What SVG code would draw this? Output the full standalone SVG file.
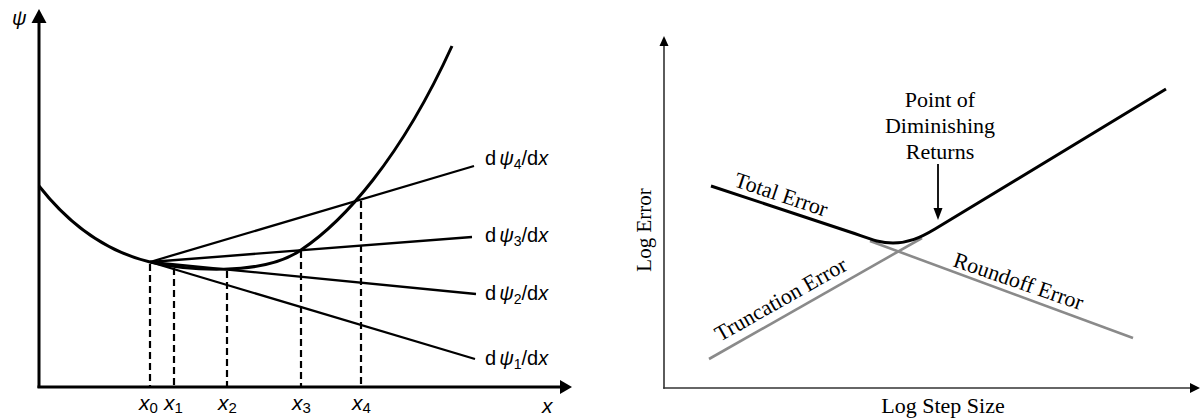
<svg xmlns="http://www.w3.org/2000/svg" width="1201" height="419" viewBox="0 0 1201 419">
<style>
.sans{font-family:"Liberation Sans",Arial,sans-serif;fill:#000}
.serif{font-family:"Liberation Serif","Times New Roman",serif;fill:#000}
.it{font-style:italic}
.thick{fill:none;stroke:#000;stroke-width:3}
.tan{fill:none;stroke:#000;stroke-width:2.3}
.dash{fill:none;stroke:#000;stroke-width:2.2;stroke-dasharray:7,4}
.gray{fill:none;stroke:#8a8a8a;stroke-width:2.6}
.ax2{fill:none;stroke:#333;stroke-width:1.6}
</style>
<rect width="1201" height="419" fill="#fff"/>
<!-- Left panel -->
<g id="left-axes">
<line class="thick" x1="39" y1="20" x2="39" y2="388"/>
<polygon points="39,9 31.5,23 46.5,23" fill="#000"/>
<line class="thick" x1="37.5" y1="387" x2="562" y2="387"/>
<polygon points="572,387 560,380 560,394" fill="#000"/>
<text class="sans it" x="12" y="25" font-size="20">ψ</text>
<text class="sans it" x="542" y="413" font-size="21">x</text>
</g>
<g id="connectors">
<path class="thick" d="M39,186 C72,228 108,252 150,262 C185,270 262,277 301,250 C343,222 400,160 452,46"/>
<line class="tan" x1="150" y1="262" x2="474" y2="166"/>
<line class="tan" x1="150" y1="262" x2="472" y2="237"/>
<line class="tan" x1="150" y1="262" x2="476" y2="294"/>
<line class="tan" x1="150" y1="262" x2="475" y2="359"/>
<line class="dash" x1="150" y1="264" x2="150" y2="386"/>
<line class="dash" x1="174" y1="268" x2="174" y2="386"/>
<line class="dash" x1="227" y1="271" x2="227" y2="386"/>
<line class="dash" x1="301" y1="251" x2="301" y2="386"/>
<line class="dash" x1="361" y1="201" x2="361" y2="386"/>
</g>
<g id="tangent-labels" class="sans" font-size="20">
<text x="485" y="165">d<tspan class="it" dx="3">ψ</tspan><tspan font-size="14" dy="4">4</tspan><tspan dy="-4">/d</tspan><tspan class="it">x</tspan></text>
<text x="485" y="242">d<tspan class="it" dx="3">ψ</tspan><tspan font-size="14" dy="4">3</tspan><tspan dy="-4">/d</tspan><tspan class="it">x</tspan></text>
<text x="485" y="300">d<tspan class="it" dx="3">ψ</tspan><tspan font-size="14" dy="4">2</tspan><tspan dy="-4">/d</tspan><tspan class="it">x</tspan></text>
<text x="485" y="365">d<tspan class="it" dx="3">ψ</tspan><tspan font-size="14" dy="4">1</tspan><tspan dy="-4">/d</tspan><tspan class="it">x</tspan></text>
</g>
<g id="x-labels" class="sans" font-size="21">
<text x="139" y="410"><tspan class="it">x</tspan><tspan font-size="15" dy="3">0</tspan></text>
<text x="164" y="410"><tspan class="it">x</tspan><tspan font-size="15" dy="3">1</tspan></text>
<text x="218" y="410"><tspan class="it">x</tspan><tspan font-size="15" dy="3">2</tspan></text>
<text x="292" y="410"><tspan class="it">x</tspan><tspan font-size="15" dy="3">3</tspan></text>
<text x="352" y="410"><tspan class="it">x</tspan><tspan font-size="15" dy="3">4</tspan></text>
</g>
<!-- Right panel -->
<g id="right-axes">
<line class="ax2" x1="664" y1="44" x2="664" y2="388.8"/>
<polygon points="664,36 659.5,46 668.5,46" fill="#000"/>
<line class="ax2" x1="663.2" y1="388" x2="1192" y2="388"/>
<polygon points="1200,388 1190,383 1190,393" fill="#000"/>
<text class="serif" font-size="21" text-anchor="middle" transform="translate(651,230) rotate(-90)">Log Error</text>
<text class="serif" x="943" y="413" font-size="22" text-anchor="middle">Log Step Size</text>
</g>
<g id="error-curves">
<line class="gray" x1="870" y1="241" x2="1133" y2="338"/>
<line class="gray" x1="709" y1="359" x2="922" y2="238"/>
<path class="thick" stroke-width="2.8" d="M711,186 L850,232 C868,238 878,243 893,243 C908,243 920,238 935,229 L1166,89"/>
</g>
<g id="error-labels" class="serif" font-size="22">
<text transform="translate(733,186) rotate(18.5)">Total Error</text>
<text transform="translate(720,342) rotate(-29.5)">Truncation Error</text>
<text transform="translate(952,266) rotate(19)">Roundoff Error</text>
</g>
<g id="annotation">
<text class="serif" font-size="22" text-anchor="middle"><tspan x="940" y="107">Point of</tspan><tspan x="940" y="133">Diminishing</tspan><tspan x="940" y="159">Returns</tspan></text>
<line x1="938" y1="164" x2="938" y2="210" stroke="#000" stroke-width="1.8"/>
<polygon points="938,220 933.5,208 942.5,208" fill="#000"/>
</g>
</svg>
